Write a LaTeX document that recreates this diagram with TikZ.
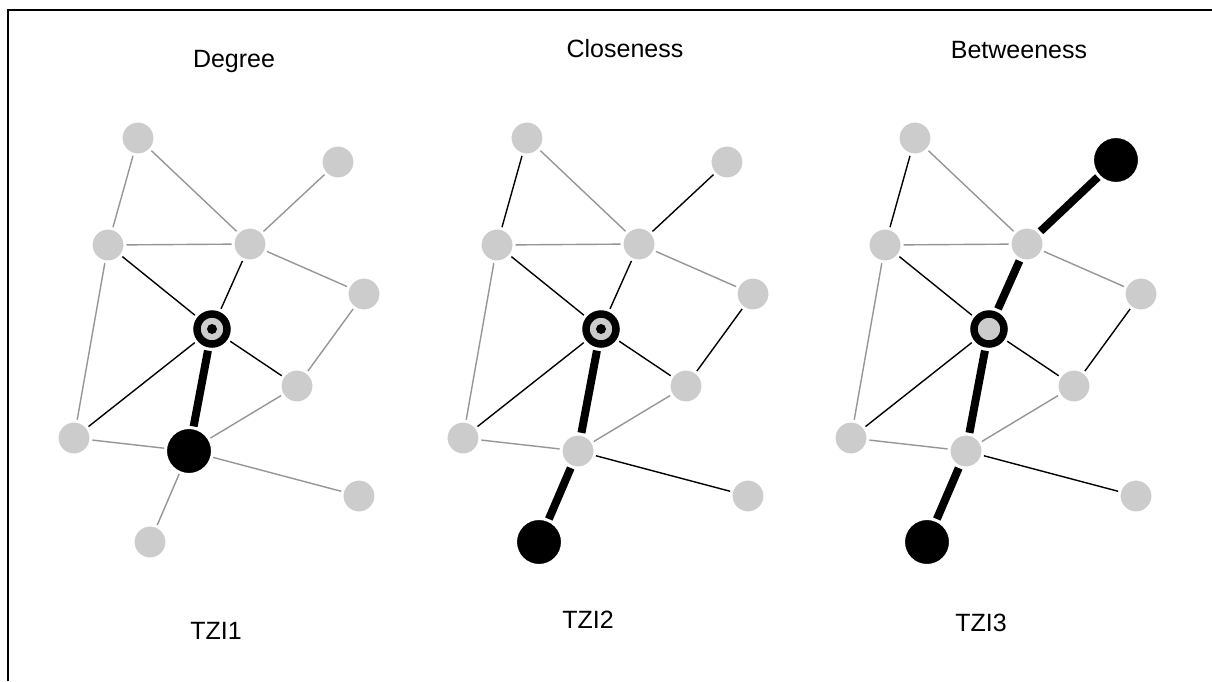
\documentclass[tikz,border=0pt]{standalone}
\usepackage{fontspec}
\setmainfont{Liberation Sans}
\definecolor{nodegray}{RGB}{204,204,204}
\definecolor{edgegray}{RGB}{150,150,150}
\begin{document}
\begin{tikzpicture}[x=1pt,y=-1pt,
  vtx/.style={circle,inner sep=0pt,minimum size=34pt,fill=nodegray,draw=white,line width=3pt},
  hub/.style={circle,inner sep=0pt,minimum size=47pt,fill=black,draw=white,line width=3pt},
  focal/.style={circle,inner sep=0pt,minimum size=30pt,fill=nodegray,draw=black,line width=7.5pt,outer sep=7pt},
  weak/.style={draw=edgegray,line width=1.4pt},
  strong/.style={draw=black,line width=1.4pt},
  heavy/.style={draw=black,line width=8pt},
  title/.style={anchor=base,font=\fontsize{25}{30}\selectfont},
]
\useasboundingbox (0,0) rectangle (1212,681);
\fill[white] (0,0) rectangle (1212,681);
% frame
\draw[line width=2pt] (8,681) -- (8,10) -- (1212,10);

% ---------- Degree ----------
\begin{scope}[xshift=-389pt]
  \node[vtx] (a1) at (527,138) {};
  \node[vtx] (b1) at (727,162) {};
  \node[vtx] (c1) at (497,245) {};
  \node[vtx] (d1) at (639,244) {};
  \node[vtx] (e1) at (753,294) {};
  \node[focal] (f1) at (601,329) {};
  \node[vtx] (g1) at (686,386) {};
  \node[vtx] (h1) at (463,438) {};
  \node[hub] (i1) at (578,451) {};
  \node[vtx] (j1) at (748,496) {};
  \node[vtx] (k1) at (539,542) {};
\end{scope}
\fill (f1) circle (5pt);
\draw[weak] (a1) -- (c1);
\draw[weak] (a1) -- (d1);
\draw[weak] (b1) -- (d1);
\draw[weak] (c1) -- (d1);
\draw[weak] (d1) -- (e1);
\draw[weak] (e1) -- (g1);
\draw[weak] (c1) -- (h1);
\draw[weak] (h1) -- (i1);
\draw[weak] (i1) -- (g1);
\draw[weak] (i1) -- (j1);
\draw[weak] (i1) -- (k1);
\draw[strong] (c1) -- (f1);
\draw[strong] (d1) -- (f1);
\draw[strong] (f1) -- (g1);
\draw[strong] (f1) -- (h1);
\draw[heavy] (f1) -- (i1);
\node[title] (t1) at (234,67) {Degree};
\node[title] (l1) at (216,639) {TZI1};

% ---------- Closeness ----------
\node[vtx] (a2) at (527,138) {};
\node[vtx] (b2) at (727,162) {};
\node[vtx] (c2) at (497,245) {};
\node[vtx] (d2) at (639,244) {};
\node[vtx] (e2) at (753,294) {};
\node[focal] (f2) at (601,329) {};
\node[vtx] (g2) at (686,386) {};
\node[vtx] (h2) at (463,438) {};
\node[vtx] (i2) at (578,451) {};
\node[vtx] (j2) at (748,496) {};
\node[hub] (k2) at (539,542) {};
\fill (f2) circle (5pt);
\draw[strong] (a2) -- (c2);
\draw[weak] (a2) -- (d2);
\draw[strong] (b2) -- (d2);
\draw[weak] (c2) -- (d2);
\draw[weak] (d2) -- (e2);
\draw[strong] (e2) -- (g2);
\draw[weak] (c2) -- (h2);
\draw[weak] (h2) -- (i2);
\draw[weak] (i2) -- (g2);
\draw[strong] (i2) -- (j2);
\draw[strong] (c2) -- (f2);
\draw[strong] (d2) -- (f2);
\draw[strong] (f2) -- (g2);
\draw[strong] (f2) -- (h2);
\draw[heavy] (f2) -- (i2);
\draw[heavy] (i2) -- (k2);
\node[title] (t2) at (625,57) {Closeness};
\node[title] (l2) at (588,628) {TZI2};

% ---------- Betweeness ----------
\begin{scope}[xshift=388pt]
  \node[vtx] (a3) at (527,138) {};
  \node[hub] (b3) at (728,160) {};
  \node[vtx] (c3) at (497,245) {};
  \node[vtx] (d3) at (639,244) {};
  \node[vtx] (e3) at (753,294) {};
  \node[focal] (f3) at (601,329) {};
  \node[vtx] (g3) at (686,386) {};
  \node[vtx] (h3) at (463,438) {};
  \node[vtx] (i3) at (578,451) {};
  \node[vtx] (j3) at (748,496) {};
  \node[hub] (k3) at (539,542) {};
\end{scope}
\draw[strong] (a3) -- (c3);
\draw[weak] (a3) -- (d3);
\draw[weak] (c3) -- (d3);
\draw[weak] (d3) -- (e3);
\draw[strong] (e3) -- (g3);
\draw[weak] (c3) -- (h3);
\draw[weak] (h3) -- (i3);
\draw[weak] (i3) -- (g3);
\draw[strong] (i3) -- (j3);
\draw[strong] (c3) -- (f3);
\draw[strong] (f3) -- (g3);
\draw[strong] (f3) -- (h3);
\draw[heavy] (b3) -- (d3);
\draw[heavy] (d3) -- (f3);
\draw[heavy] (f3) -- (i3);
\draw[heavy] (i3) -- (k3);
\node[title] (t3) at (1019,58) {Betweeness};
\node[title] (l3) at (981,631) {TZI3};
\end{tikzpicture}
\end{document}
